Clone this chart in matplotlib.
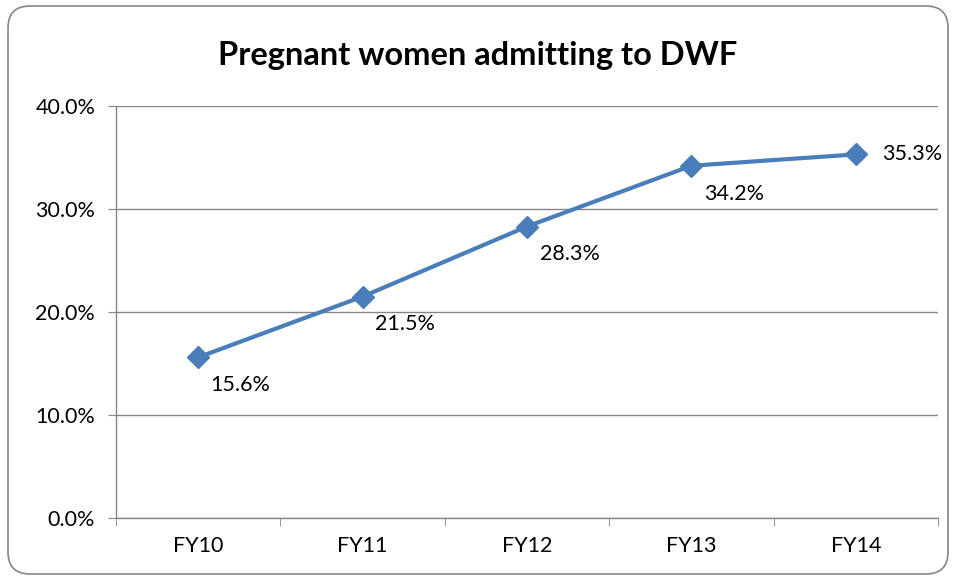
import matplotlib
matplotlib.use("Agg")
import matplotlib.pyplot as plt
from matplotlib.patches import FancyBboxPatch
from matplotlib.ticker import FixedLocator

# data
categories = ["FY10", "FY11", "FY12", "FY13", "FY14"]
values = [15.6, 21.5, 28.3, 34.2, 35.3]
y_ticks = [0, 10, 20, 30, 40]

plt.rcParams['font.family'] = ['Lato', 'DejaVu Sans']

fig = plt.figure(figsize=(9.56, 5.8), dpi=100)
ax = fig.add_axes([116/956, 1-518/580, (938-116)/956, (518-106)/580])

x = [i + 0.5 for i in range(len(categories))]
blue = '#4A7EBB'
ax.plot(x, values, color=blue, lw=3, marker='D', markersize=11,
        markerfacecolor=blue, markeredgecolor=blue, zorder=3)

# data labels, placed right/below the point as in the original
for i, (xi, v) in enumerate(zip(x, values)):
    if i == len(values) - 1:
        off, va = (19, 0), 'center'
    else:
        off, va = (9, -20), 'center'
    ax.annotate(f"{v:.1f}%", (xi, v), xytext=off, textcoords='offset points',
                ha='left', va=va, fontsize=15.5, color='black')

ax.set_xlim(0, len(categories))
ax.set_ylim(0, 40)
ax.set_yticks(y_ticks)
ax.set_yticklabels([f"{t:.1f}%" for t in y_ticks])
ax.set_xticks(x)
ax.set_xticklabels(categories)
ax.xaxis.set_minor_locator(FixedLocator(range(len(categories) + 1)))

grey = '#868686'
ax.grid(axis='y', color=grey, lw=1)
ax.set_axisbelow(True)
for s in ['top', 'right']:
    ax.spines[s].set_visible(False)
for s in ['left', 'bottom']:
    ax.spines[s].set_color(grey)
    ax.spines[s].set_linewidth(1)

ax.tick_params(axis='y', which='major', length=6, color=grey, labelsize=15.5, pad=9)
ax.tick_params(axis='x', which='major', length=0, labelsize=15.5, pad=13)
ax.tick_params(axis='x', which='minor', length=6, color=grey)

fig.text(0.5, 1 - 56/580, "Pregnant women admitting to DWF", ha='center', va='center',
         fontsize=23.5, fontweight='bold')

# chart border with rounded corners
border = FancyBboxPatch((8, 6), 940, 568, boxstyle="round,pad=0,rounding_size=22",
                        transform=None, fill=False, edgecolor=grey, lw=1.2)
fig.patches.append(border)

fig.savefig("out.png", dpi=100)
